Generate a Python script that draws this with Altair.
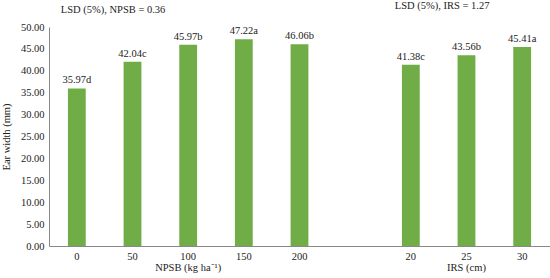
import altair as alt
import pandas as pd

# Ear width by NPSB rate and inter-row spacing (IRS)
categories = ["0", "50", "100", "150", "200", "20", "25", "30"]
ear_width = [35.97, 42.04, 45.97, 47.22, 46.06, 41.38, 43.56, 45.41]
letters = ["d", "c", "b", "a", "b", "c", "b", "a"]
# x slots: NPSB levels, an empty spacer slot, then IRS levels
x_domain = ["0", "50", "100", "150", "200", " ", "20", "25", "30"]
y_ticks = [0, 5, 10, 15, 20, 25, 30, 35, 40, 45, 50]

df = pd.DataFrame({
    "cat": categories,
    "value": ear_width,
    "label": [f"{v:.2f}{l}" for v, l in zip(ear_width, letters)],
})

FONT = "'Liberation Serif', 'Times New Roman', serif"
GREEN = "#70AD47"
TEXT = "#222222"
W, H = 501, 219

x = alt.X(
    "cat:N",
    sort=x_domain,
    scale=alt.Scale(domain=x_domain, paddingInner=0.68, paddingOuter=0.34),
    axis=alt.Axis(title=None, labelAngle=0, ticks=False, labelPadding=5,
                  labelFont=FONT, labelFontSize=10.5, labelColor=TEXT,
                  domainColor="#888", domainWidth=1),
)
y = alt.Y(
    "value:Q",
    scale=alt.Scale(domain=[0, 50], nice=False),
    axis=alt.Axis(title="Ear width (mm)", values=y_ticks, format=".2f",
                  ticks=False, grid=False, labelPadding=5, labelOverlap=False,
                  labelFont=FONT, labelFontSize=10.5, labelColor=TEXT,
                  titleFont=FONT, titleFontSize=10.5, titleFontWeight="normal",
                  titleColor=TEXT, titleX=-38, titleY=H / 2,
                  domainColor="#888", domainWidth=1),
)

bars = alt.Chart(df).mark_bar(color=GREEN).encode(x=x, y=y)

labels = alt.Chart(df).mark_text(
    baseline="bottom", dy=-3, font=FONT, fontSize=10.5, color=TEXT
).encode(x=x, y=y, text="label:N")

# group axis titles under the category slots
group_titles = pd.DataFrame({
    "cat": ["100", "25"],
    "text": ["NPSB (kg ha\u207b\u00b9)", "IRS (cm)"],
})
titles = alt.Chart(group_titles).mark_text(
    baseline="bottom", font=FONT, fontSize=10.5, color=TEXT
).encode(x=x, y=alt.value(H + 27), text="text:N")

# LSD annotations above the plot
lsd_left = alt.Chart(pd.DataFrame({"cat": ["0"], "text": ["LSD (5%), NPSB = 0.36"]})).mark_text(
    align="left", baseline="bottom", dx=-16, dy=-12, font=FONT, fontSize=10.5, color=TEXT
).encode(x=x, y=alt.value(0), text="text:N")
lsd_right = alt.Chart(pd.DataFrame({"cat": ["20"], "text": ["LSD (5%), IRS = 1.27"]})).mark_text(
    align="left", baseline="bottom", dx=-16, dy=-16, font=FONT, fontSize=10.5, color=TEXT
).encode(x=x, y=alt.value(0), text="text:N")

chart = alt.layer(bars, labels, titles, lsd_left, lsd_right).properties(
    width=W, height=H,
    autosize=alt.AutoSizeParams(type="none"),
    padding={"left": 49, "top": 27, "right": 0, "bottom": 32},
    background="white",
).configure_view(stroke=None)

chart.save("out.html", embed_options={"renderer": "svg", "actions": False})
